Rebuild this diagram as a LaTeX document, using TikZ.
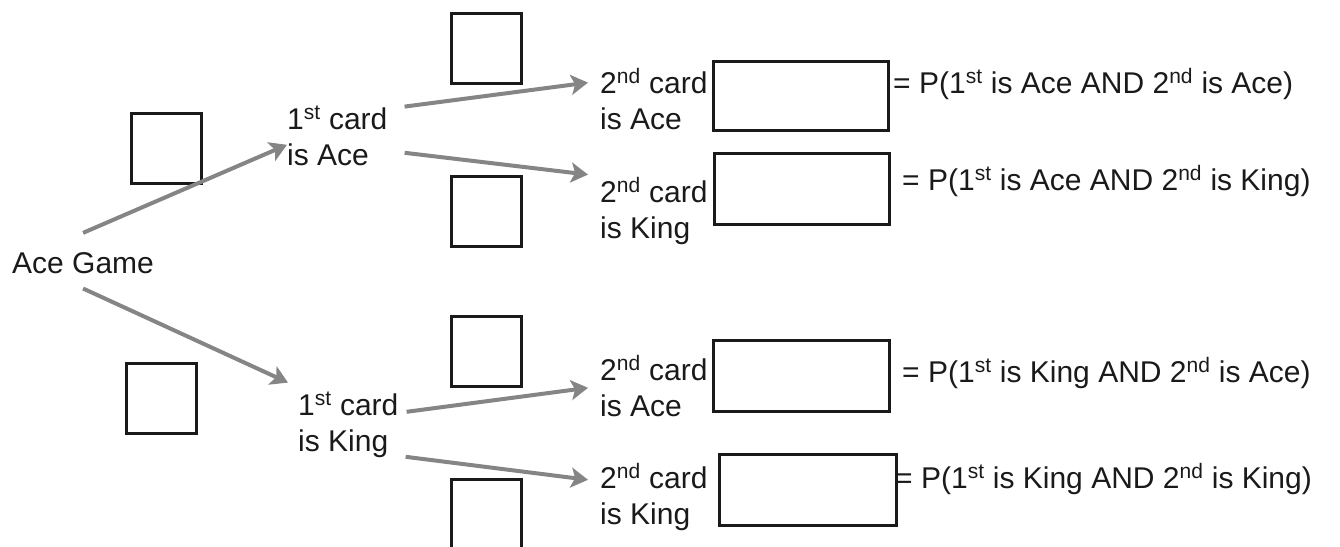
\documentclass[tikz,border=0pt]{standalone}
\usepackage{fontspec}
\setmainfont{Liberation Sans}
\usetikzlibrary{arrows.meta}
\definecolor{ink}{HTML}{1A1A1A}
\definecolor{arrowgray}{HTML}{858585}
% two left-aligned lines, baseline on the first one
\newcommand\twolines[2]{\begin{tabular}[t]{@{}l@{}}#1\\#2\end{tabular}}
\newcommand\ord[2]{#1\textsuperscript{#2}}
\begin{document}
\begin{tikzpicture}[x=1pt,y=-1pt,
  txt/.style={inner sep=0pt, anchor=base west, text=ink,
              font=\fontsize{30}{36}\selectfont},
  answer/.style={draw=ink, line width=2.6pt, inner sep=0pt, anchor=north west},
  sq/.style={answer, minimum width=70pt, minimum height=70pt},
  arr/.style={draw=arrowgray, line width=4pt,
              -{Stealth[length=17pt,width=20pt,inset=4pt]}}]
\useasboundingbox (0,0) rectangle (1340,546);

% root
\node[txt] (game) at (12,273) {Ace Game};

% first draw
\node[txt] (c1) at (287,129) {\twolines{\ord{1}{st} card}{is Ace}};
\node[txt] (c2) at (298,415) {\twolines{\ord{1}{st} card}{is King}};

% second draw
\node[txt] (d1) at (600,93)  {\twolines{\ord{2}{nd} card}{is Ace}};
\node[txt] (d2) at (600,202) {\twolines{\ord{2}{nd} card}{is King}};
\node[txt] (d3) at (600,380) {\twolines{\ord{2}{nd} card}{is Ace}};
\node[txt] (d4) at (600,488) {\twolines{\ord{2}{nd} card}{is King}};

% probability boxes on the branches
\node[sq] (pA)  at (130,112) {};
\node[sq] (pK)  at (125,362) {};
\node[sq] (pAA) at (450,12)  {};
\node[sq] (pAK) at (450,175) {};
\node[sq] (pKA) at (450,315) {};
\node[sq] (pKK) at (450,478) {};

% joint probability boxes
\node[answer, minimum width=175pt, minimum height=69pt] (jAA) at (712,60)  {};
\node[answer, minimum width=175pt, minimum height=71pt] (jAK) at (713,152) {};
\node[answer, minimum width=176pt, minimum height=71pt] (jKA) at (712,339) {};
\node[answer, minimum width=177pt, minimum height=71pt] (jKK) at (718,453) {};

% outcome labels
\node[txt] (eAA) at (893,93)  {= P(\ord{1}{st} is Ace AND \ord{2}{nd} is Ace)};
\node[txt] (eAK) at (902,190) {= P(\ord{1}{st} is Ace AND \ord{2}{nd} is King)};
\node[txt] (eKA) at (902,382) {= P(\ord{1}{st} is King AND \ord{2}{nd} is Ace)};
\node[txt] (eKK) at (895,488) {= P(\ord{1}{st} is King AND \ord{2}{nd} is King)};

% branches
\draw[arr] ([yshift=19pt]game.north) -- ([yshift=-5pt]c1.west);
\draw[arr] ([yshift=-15pt]game.south) -- ([shift={(-10pt,7pt)}]c2.north west);
\draw[arr] ([shift={(17pt,-3pt)}]c1.north east) -- ([shift={(-12pt,-15pt)}]d1.north west);
\draw[arr] ([shift={(17pt,-13pt)}]c1.east) -- ([shift={(-12pt,2pt)}]d2.north west);
\draw[arr] ([shift={(8pt,14pt)}]c2.east) -- ([shift={(-12pt,3pt)}]d3.west);
\draw[arr] ([shift={(7pt,-31pt)}]c2.east) -- ([shift={(-12pt,19pt)}]d4.west);
\end{tikzpicture}
\end{document}
